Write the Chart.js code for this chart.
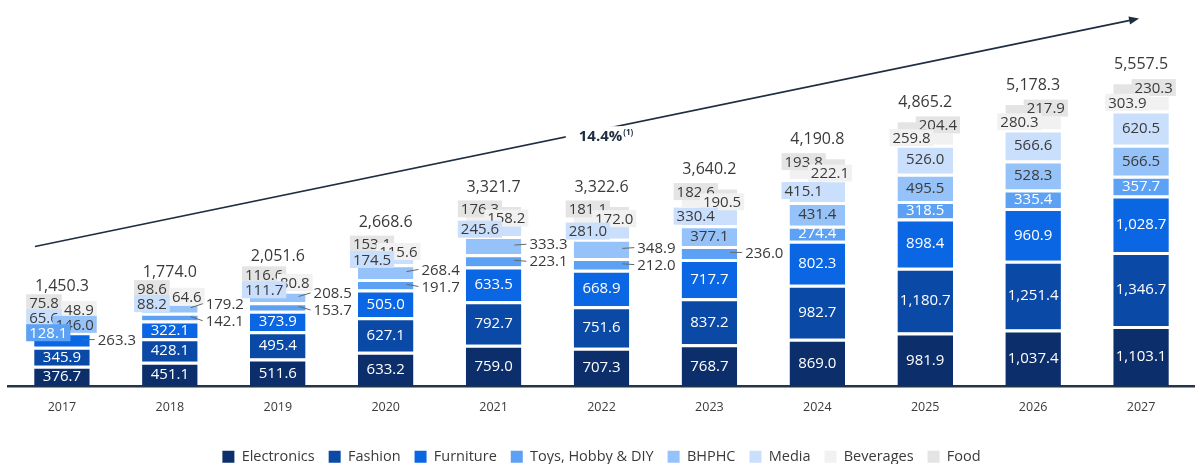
<!DOCTYPE html>
<html>
<head>
<meta charset="utf-8">
<script src="https://cdn.jsdelivr.net/npm/chart.js@4"></script>
<style>
  html, body { margin: 0; padding: 0; background: #fff; overflow: hidden; }
  #wrap { width: 1195px; height: 464px; overflow: hidden; }
  #chart { display: block; }
</style>
</head>
<body>
<div id="wrap"><canvas id="chart" width="1195" height="474"></canvas></div>
<script>
const years = ['2017', '2018', '2019', '2020', '2021', '2022', '2023', '2024', '2025', '2026', '2027'];

const electronics = [376.7, 451.1, 511.6, 633.2, 759.0, 707.3, 768.7, 869.0, 981.9, 1037.4, 1103.1];
const fashion = [345.9, 428.1, 495.4, 627.1, 792.7, 751.6, 837.2, 982.7, 1180.7, 1251.4, 1346.7];
const furniture = [263.3, 322.1, 373.9, 505.0, 633.5, 668.9, 717.7, 802.3, 898.4, 960.9, 1028.7];
const toys = [128.1, 142.1, 153.7, 191.7, 223.1, 212.0, 236.0, 274.4, 318.5, 335.4, 357.7];
const bhphc = [146.0, 179.2, 208.5, 268.4, 333.3, 348.9, 377.1, 431.4, 495.5, 528.3, 566.5];
const media = [65.6, 88.2, 111.7, 174.5, 245.6, 281.0, 330.4, 415.1, 526.0, 566.6, 620.5];
const beverages = [48.9, 64.6, 80.8, 115.6, 158.2, 172.0, 190.5, 222.1, 259.8, 280.3, 303.9];
const food = [75.8, 98.6, 116.6, 153.1, 176.3, 181.1, 182.6, 193.8, 204.4, 217.9, 230.3];
const totals = [1450.3, 1774.0, 2051.6, 2668.6, 3321.7, 3322.6, 3640.2, 4190.8, 4865.2, 5178.3, 5557.5];

const seriesNames = ['Electronics', 'Fashion', 'Furniture', 'Toys, Hobby & DIY', 'BHPHC', 'Media', 'Beverages', 'Food'];
const seriesValues = [electronics, fashion, furniture, toys, bhphc, media, beverages, food];
const seriesColors = ['#0c2f6b', '#0a4aa6', '#0a66e2', '#5ca1f3', '#95c2f8', '#cadffb', '#f1f1f1', '#e4e4e4'];

// CAGR arrow, in axis values
const cagrText = '14.4%';
const trendFrom = 2550;
const trendTo = 6700;

const FONT = '"Open Sans", sans-serif';
const fmt = v => v.toLocaleString('en-US', { minimumFractionDigits: 1, maximumFractionDigits: 1 });

function spread(items, gap) {
    items.sort((a, b) => a.y - b.y);
    for (let it = 0; it < 40; it++) {
        for (let k = 1; k < items.length; k++) {
            const d = gap - (items[k].y - items[k - 1].y);
            if (d > 0) { items[k - 1].y -= d / 2; items[k].y += d / 2; }
        }
    }
}

// labels on the stacks: inside, to the right with a leader, or in small boxes
const segmentLabels = {
    id: 'segmentLabels',
    afterDatasetsDraw(chart) {
        const ctx = chart.ctx;
        ctx.save();
        ctx.textBaseline = 'middle';
        years.forEach((year, i) => {
            let inside = [], ext = [], left = [], right = [];
            let barTop = Infinity;
            const items = seriesValues.map((vals, j) => {
                const el = chart.getDatasetMeta(j).data[i];
                const top = el.y, bottom = el.base;
                barTop = Math.min(barTop, top);
                return { text: fmt(vals[i]), h: bottom - top, y: (top + bottom) / 2, y0: (top + bottom) / 2, x: el.x, w: el.width, j };
            });
            const mediaInside = items[5].h >= 25;
            items.forEach(item => {
                const { j, h } = item;
                if (j <= 2) (h >= 15 ? inside : ext).push(item);
                else if (j === 3) (h >= 14 ? inside : ext).push(item);
                else if (j === 4) (h >= 20 ? inside : ext).push(item);
                else if (j === 5) (mediaInside ? inside : left).push(item);
                else if (j === 6) (mediaInside ? left : right).push(item);
                else (mediaInside ? right : left).push(item);
            });
            // too many leader labels: keep the lowest, the rest go in boxes
            if (ext.length > 2) {
                ext.splice(1).forEach(b => (b.j === 3 ? left : right).push(b));
            }
            spread(ext, 17);
            spread(left, 15);
            spread(right, 15);

            ctx.font = '15px ' + FONT;
            const boxes = left.map(b => ({ ...b, side: 'l' })).concat(right.map(b => ({ ...b, side: 'r' })));
            boxes.sort((a, b) => b.j - a.j);
            boxes.forEach(b => {
                const tw = ctx.measureText(b.text).width;
                const bx = b.side === 'l' ? b.x - b.w / 2 - 8 : b.x + b.w / 2 + 7 - tw - 6;
                ctx.fillStyle = seriesColors[b.j];
                ctx.fillRect(bx, b.y - 8.5, tw + 6, 17);
                ctx.fillStyle = b.j === 3 ? '#fff' : '#3a3a3a';
                ctx.textAlign = 'left';
                ctx.fillText(b.text, bx + 3, b.y + 1);
            });

            ext.forEach(b => {
                const xr = b.x + b.w / 2;
                ctx.strokeStyle = '#666';
                ctx.lineWidth = 1;
                ctx.beginPath();
                ctx.moveTo(xr - 7, b.y0);
                ctx.lineTo(xr + 5, b.y);
                ctx.stroke();
                ctx.fillStyle = '#3a3a3a';
                ctx.textAlign = 'left';
                ctx.fillText(b.text, xr + 8, b.y + 1);
            });

            inside.forEach(b => {
                ctx.fillStyle = b.j <= 3 ? '#fff' : '#3a3a3a';
                ctx.textAlign = 'center';
                ctx.fillText(b.text, b.x, b.y + 1);
            });

            let minY = barTop - 17;
            boxes.concat(ext).forEach(b => { minY = Math.min(minY, b.y - 16); });
            ctx.font = '16px ' + FONT;
            ctx.fillStyle = '#3a3a3a';
            ctx.textAlign = 'center';
            ctx.fillText(fmt(totals[i]), items[0].x, minY);
        });
        ctx.restore();
    }
};

const cagrArrow = {
    id: 'cagrArrow',
    afterDraw(chart) {
        const ctx = chart.ctx;
        const xs = chart.scales.x, ys = chart.scales.y;
        const x0 = xs.getPixelForValue(0) - 27, y0 = ys.getPixelForValue(trendFrom);
        const x1 = xs.getPixelForValue(years.length - 1) - 2, y1 = ys.getPixelForValue(trendTo);
        const ang = Math.atan2(y1 - y0, x1 - x0);
        ctx.save();
        ctx.strokeStyle = '#1e2d40';
        ctx.fillStyle = '#1e2d40';
        ctx.lineWidth = 1.6;
        ctx.beginPath();
        ctx.moveTo(x0, y0);
        ctx.lineTo(x1 - 8 * Math.cos(ang), y1 - 8 * Math.sin(ang));
        ctx.stroke();
        ctx.beginPath();
        ctx.moveTo(x1, y1);
        ctx.lineTo(x1 - 10 * Math.cos(ang) + 4 * Math.sin(ang), y1 - 10 * Math.sin(ang) - 4 * Math.cos(ang));
        ctx.lineTo(x1 - 10 * Math.cos(ang) - 4 * Math.sin(ang), y1 - 10 * Math.sin(ang) + 4 * Math.cos(ang));
        ctx.closePath();
        ctx.fill();

        // label a bit past the middle of the arrow
        const t = 0.51;
        const mx = x0 + (x1 - x0) * t + 8, my = y0 + (y1 - y0) * t + 6;
        ctx.font = 'bold 15px ' + FONT;
        const w1 = ctx.measureText(cagrText).width;
        ctx.font = 'bold 8px ' + FONT;
        const w2 = ctx.measureText('(1)').width;
        const tw = w1 + w2 + 1;
        ctx.fillStyle = '#fff';
        ctx.fillRect(mx - tw / 2 - 13, my - 10, tw + 26, 20);
        ctx.fillStyle = '#1e2d40';
        ctx.textBaseline = 'middle';
        ctx.textAlign = 'left';
        ctx.font = 'bold 15px ' + FONT;
        ctx.fillText(cagrText, mx - tw / 2, my + 1);
        ctx.font = 'bold 8px ' + FONT;
        ctx.fillText('(1)', mx - tw / 2 + w1 + 1, my - 3);
        ctx.restore();
    }
};

const ctx = document.getElementById('chart').getContext('2d');
const chart = new Chart(ctx, {
    type: 'bar',
    data: {
        labels: years,
        datasets: seriesNames.map((name, j) => ({
            label: name,
            data: seriesValues[j],
            backgroundColor: seriesColors[j],
            borderColor: '#fff',
            borderWidth: { top: 3, right: 0, bottom: 0, left: 0 },
            borderSkipped: 'start',
            barPercentage: 0.515,
            categoryPercentage: 1
        }))
    },
    options: {
        responsive: false,
        animation: false,
        layout: { padding: { top: 10, left: 8, right: 0, bottom: 0 } },
        scales: {
            x: {
                stacked: true,
                grid: { display: false, drawTicks: false },
                border: { display: true, color: '#23354a', width: 2.5 },
                ticks: { color: '#3a3a3a', font: { size: 12.5, family: FONT }, padding: 13 },
                afterFit: s => { s.height = 49; }
            },
            y: {
                stacked: true,
                display: false,
                min: 0,
                max: 6855
            }
        },
        plugins: {
            legend: {
                position: 'bottom',
                labels: {
                    boxWidth: 12,
                    boxHeight: 12,
                    padding: 14,
                    color: '#3a3a3a',
                    font: { size: 14.5, family: FONT },
                    generateLabels: c => Chart.defaults.plugins.legend.labels.generateLabels(c).map(l => ({ ...l, lineWidth: 0 }))
                }
            },
            tooltip: { enabled: false }
        }
    },
    plugins: [segmentLabels, cagrArrow]
});
</script>
</body>
</html>
